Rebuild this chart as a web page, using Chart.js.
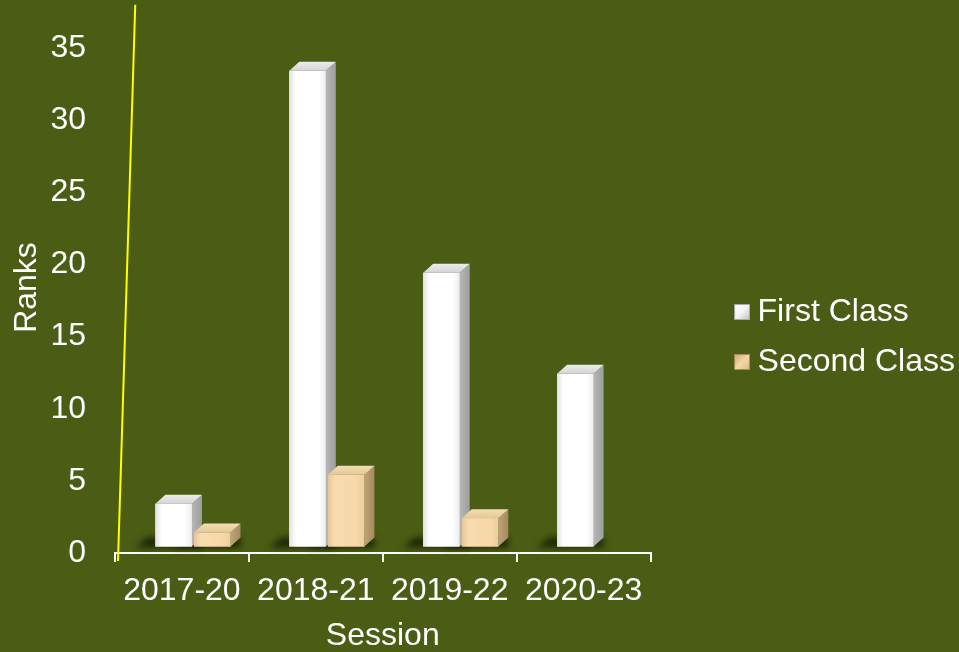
<!DOCTYPE html>
<html><head><meta charset="utf-8">
<script src="https://cdn.jsdelivr.net/npm/chart.js@4.4.1/dist/chart.umd.min.js"></script>
<style>html,body{margin:0;padding:0;background:#4b5c14;} #wrap{width:959px;height:652px;overflow:hidden;}</style>
</head><body><div id="wrap"><canvas id="c" width="959" height="652"></canvas></div>
<script>
// ---- data ----
const categories = ['2017-20', '2018-21', '2019-22', '2020-23'];
const firstClass = [3, 33, 19, 12];
const secondClass = [1, 5, 2, 0];
const seriesNames = ['First Class', 'Second Class'];
const yTickValues = [0, 5, 10, 15, 20, 25, 30, 35];
const xTitle = 'Session';
const yTitle = 'Ranks';

// ---- style ----
const FONT = "'Liberation Sans', Arial, sans-serif";
const FS = 32;
const DEPTH = {dx: 10, dy: -9};
const SHIFT = {x: 11, y: -6};
const faceStyles = [
  {front: ['#e2e2e2', '#ffffff', '#ffffff', '#ededed'], side: ['#b6b6b6', '#9e9e9e'], top: ['#ececec', '#d4d4d4']},
  {front: ['#e6c592', '#f8dcb0', '#f6d8a8', '#ecce9c'], side: ['#bda476', '#a58b5d'], top: ['#f4deb4', '#e3c795']}
];

function legendImg(i) {
  const c = document.createElement('canvas');
  c.width = 90; c.height = 16;
  const x = c.getContext('2d');
  const g = x.createLinearGradient(74, 0, 90, 16);
  if (i === 0) { g.addColorStop(0, '#ffffff'); g.addColorStop(0.5, '#f4f4f4'); g.addColorStop(1, '#bdbdbd'); }
  else { g.addColorStop(0, '#c9a870'); g.addColorStop(0.5, '#f3d7a8'); g.addColorStop(1, '#d9bb88'); }
  x.fillStyle = g; x.fillRect(74, 0, 16, 16);
  x.strokeStyle = i === 0 ? '#a8a8a8' : '#a88d5f'; x.lineWidth = 1; x.strokeRect(74.5, 0.5, 15, 15);
  return c;
}
const legendImgs = [legendImg(0), legendImg(1)];

function barBox(bar) {
  const p = bar.getProps(['x', 'y', 'base', 'width'], true);
  return {l: p.x - p.width / 2, r: p.x + p.width / 2, t: Math.min(p.y, p.base), b: Math.max(p.y, p.base)};
}

const bars3d = {
  id: 'bars3d',
  beforeDatasetsDraw(chart) {
    const ctx = chart.ctx;
    ctx.save();
    ctx.translate(SHIFT.x, SHIFT.y);
    ctx.save();
    ctx.filter = 'blur(3px)';
    ctx.fillStyle = 'rgba(18,26,0,0.8)';
    chart.data.datasets.forEach((ds, di) => {
      chart.getDatasetMeta(di).data.forEach((bar, i) => {
        if (!ds.data[i]) return;
        const b = barBox(bar);
        ctx.beginPath();
        ctx.moveTo(b.l - 20, b.b + 1);
        ctx.lineTo(b.r + DEPTH.dx, b.b + 1);
        ctx.lineTo(b.r + DEPTH.dx, b.b + DEPTH.dy);
        ctx.lineTo(b.l - 8, b.b + DEPTH.dy);
        ctx.closePath();
        ctx.fill();
      });
    });
    ctx.restore();
  },
  afterDatasetsDraw(chart) {
    const ctx = chart.ctx;
    const {dx, dy} = DEPTH;
    chart.data.datasets.forEach((ds, di) => {
      const st = faceStyles[di];
      chart.getDatasetMeta(di).data.forEach((bar, i) => {
        if (!ds.data[i]) return;
        const b = barBox(bar);
        let g = ctx.createLinearGradient(b.l, 0, b.r, 0);
        g.addColorStop(0, st.front[0]); g.addColorStop(0.18, st.front[1]);
        g.addColorStop(0.8, st.front[2]); g.addColorStop(1, st.front[3]);
        ctx.fillStyle = g;
        ctx.fillRect(b.l, b.t, b.r - b.l, b.b - b.t);
        g = ctx.createLinearGradient(b.r, 0, b.r + dx, 0);
        g.addColorStop(0, st.side[0]); g.addColorStop(1, st.side[1]);
        ctx.fillStyle = g;
        ctx.beginPath();
        ctx.moveTo(b.r, b.t); ctx.lineTo(b.r + dx, b.t + dy);
        ctx.lineTo(b.r + dx, b.b + dy); ctx.lineTo(b.r, b.b);
        ctx.closePath(); ctx.fill();
        g = ctx.createLinearGradient(0, b.t + dy, 0, b.t);
        g.addColorStop(0, st.top[0]); g.addColorStop(1, st.top[1]);
        ctx.fillStyle = g;
        ctx.beginPath();
        ctx.moveTo(b.l, b.t); ctx.lineTo(b.l + dx, b.t + dy);
        ctx.lineTo(b.r + dx, b.t + dy); ctx.lineTo(b.r, b.t);
        ctx.closePath(); ctx.fill();
      });
    });
    ctx.restore();
  }
};

const yAxis3d = {
  id: 'yAxis3d',
  afterDraw(chart) {
    const {ctx, chartArea} = chart;
    const ys = chart.scales.y;
    const yb = ys.getPixelForValue(0) + 8;
    const yt = ys.getPixelForValue(38);
    const x0 = chartArea.left + 3;
    const x1 = x0 + (yb - yt) * 0.031;
    ctx.save();
    ctx.strokeStyle = '#ffff00';
    ctx.lineWidth = 2;
    ctx.beginPath(); ctx.moveTo(x0, yb); ctx.lineTo(x1, yt); ctx.stroke();
    ctx.restore();
  }
};

new Chart(document.getElementById('c'), {
  type: 'bar',
  data: {
    labels: categories,
    datasets: [
      {label: seriesNames[0], data: firstClass, backgroundColor: '#ffffff', borderWidth: 0,
       categoryPercentage: 0.576, barPercentage: 0.948},
      {label: seriesNames[1], data: secondClass, backgroundColor: '#f6d8a8', borderWidth: 0,
       categoryPercentage: 0.576, barPercentage: 0.948}
    ]
  },
  options: {
    responsive: false,
    animation: false,
    events: [],
    layout: {padding: {top: 22, left: 4, right: -6, bottom: 0}},
    scales: {
      x: {
        afterFit(scale) { scale.height = 99; },
        grid: {display: true, drawOnChartArea: false, drawTicks: true, tickLength: 9, color: '#ffffff', lineWidth: 2},
        border: {display: true, color: '#ffffff', width: 2},
        ticks: {color: '#ffffff', font: {family: FONT, size: FS}, padding: 10, maxRotation: 0, autoSkip: false},
        title: {display: true, text: xTitle, color: '#ffffff', font: {family: FONT, size: FS, lineHeight: 1}, padding: {top: 10, bottom: 0}}
      },
      y: {
        min: 0, max: 36.8,
        afterBuildTicks(scale) { scale.ticks = yTickValues.map(v => ({value: v})); },
        afterFit(scale) { scale.width = 111; },
        grid: {display: true, drawOnChartArea: false, drawTicks: true, tickLength: 27, color: 'rgba(0,0,0,0)'},
        border: {display: false},
        ticks: {color: '#ffffff', font: {family: FONT, size: FS}, padding: 2},
        title: {display: true, text: yTitle, color: '#ffffff', font: {family: FONT, size: FS}, padding: {top: 4, bottom: 6}}
      }
    },
    plugins: {
      tooltip: {enabled: false},
      legend: {
        position: 'right',
        align: 'center',
        maxWidth: 330,
        labels: {
          color: '#ffffff',
          font: {family: FONT, size: FS},
          padding: 18,
          usePointStyle: true,
          pointStyleWidth: 73,
          generateLabels(chart) {
            const items = Chart.defaults.plugins.legend.labels.generateLabels(chart);
            items.forEach((it, i) => { it.pointStyle = legendImgs[i]; });
            return items;
          }
        }
      }
    }
  },
  plugins: [bars3d, yAxis3d]
});
</script>
</body></html>
